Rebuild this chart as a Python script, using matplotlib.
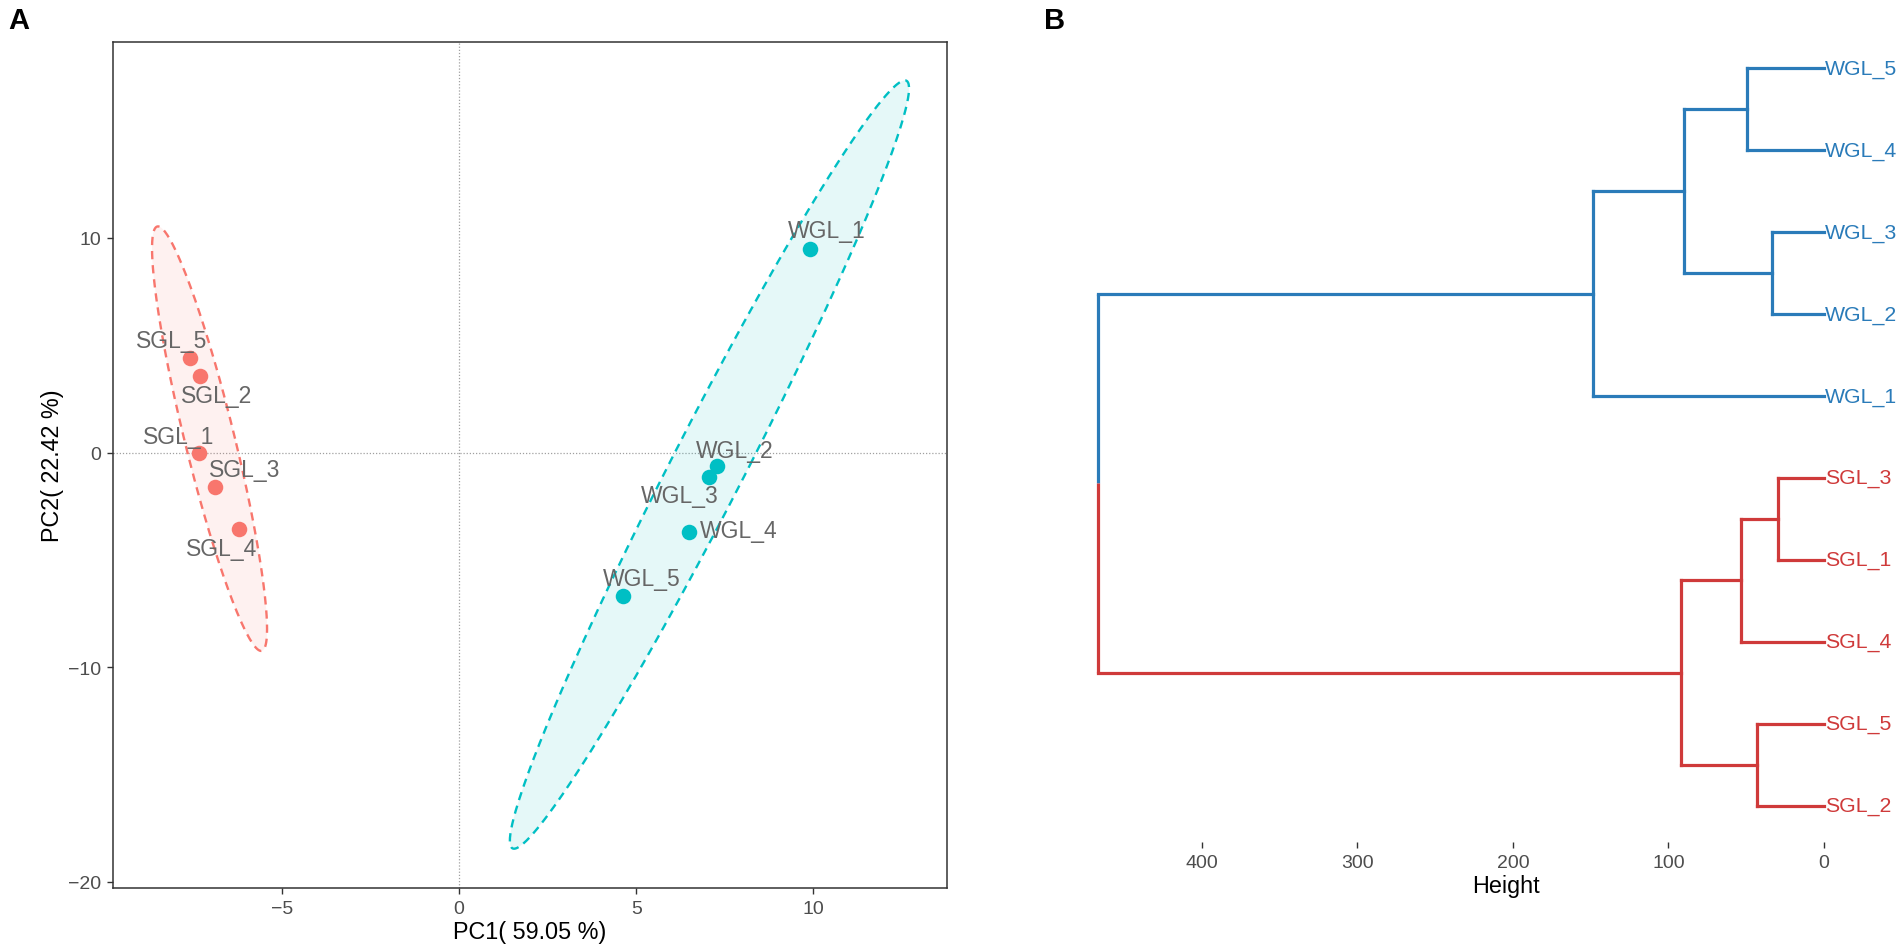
import numpy as np
import matplotlib.pyplot as plt

plt.rcParams['font.family'] = ['Liberation Sans', 'DejaVu Sans']

# PCA scores
sgl_names = ['SGL_1', 'SGL_2', 'SGL_3', 'SGL_4', 'SGL_5']
sgl_pc1 = [-7.35, -7.32, -6.90, -6.20, -7.61]
sgl_pc2 = [0.0, 3.55, -1.60, -3.57, 4.42]
wgl_names = ['WGL_1', 'WGL_2', 'WGL_3', 'WGL_4', 'WGL_5']
wgl_pc1 = [9.91, 7.28, 7.06, 6.50, 4.62]
wgl_pc2 = [9.49, -0.64, -1.13, -3.69, -6.67]

# repelled label positions (centre of text)
sgl_lab_x = [-7.91, -6.84, -6.06, -6.71, -8.12]
sgl_lab_y = [0.73, 2.67, -0.78, -4.47, 5.22]
wgl_lab_x = [10.38, 7.79, 6.22, 7.89, 5.15]
wgl_lab_y = [10.34, 0.11, -2.01, -3.61, -5.86]

# confidence ellipses: centre, top point (conjugate semi-axis), horizontal half width
sgl_ell_center = (-7.045, 0.645)
sgl_ell_top = (-8.50, 10.53)
sgl_ell_halfw = 0.72
wgl_ell_center = (7.065, -0.56)
wgl_ell_top = (12.58, 17.33)
wgl_ell_halfw = 1.15

# dendrogram (leaves bottom -> top) and merges (child, child, height)
dend_leaves = ['SGL_2', 'SGL_5', 'SGL_4', 'SGL_1', 'SGL_3',
               'WGL_1', 'WGL_2', 'WGL_3', 'WGL_4', 'WGL_5']
dend_merges = [('SGL_3', 'SGL_1', 29.7),
               ('SGL_5', 'SGL_2', 43.0),
               ('m1', 'SGL_4', 53.4),
               ('m3', 'm2', 91.9),
               ('WGL_3', 'WGL_2', 33.5),
               ('WGL_5', 'WGL_4', 49.2),
               ('m6', 'm5', 90.1),
               ('m7', 'WGL_1', 148.8),
               ('m8', 'm4', 466.6)]

SGL_COL = '#F8766D'
WGL_COL = '#00BFC4'
DEND_RED = '#CF3A3A'
DEND_BLUE = '#2A7BB9'
TICK_COL = '#4D4D4D'

fig = plt.figure(figsize=(19.02, 9.53), dpi=100)
W, H = 1902, 953


def px_axes(l, t, r, b):
    return fig.add_axes([l / W, 1 - b / H, (r - l) / W, (b - t) / H])


# ---------------- panel A ----------------
ax = px_axes(113, 42.5, 947, 889)


def draw_ellipse(center, top, halfw, col):
    t = np.linspace(0, 2 * np.pi, 300)
    cx, cy = center
    ux, uy = top[0] - cx, top[1] - cy
    xs = cx + ux * np.sin(t) + halfw * np.cos(t)
    ys = cy + uy * np.sin(t)
    ax.fill(xs, ys, color=col, alpha=0.1, lw=0, zorder=1)
    ax.plot(xs, ys, color=col, lw=1.7, ls=(0, (3.5, 2.5)), zorder=2)


ax.axhline(0, color='#A0A0A0', lw=0.9, ls=(0, (1, 1.5)), zorder=0)
ax.axvline(0, color='#A0A0A0', lw=0.9, ls=(0, (1, 1.5)), zorder=0)
draw_ellipse(sgl_ell_center, sgl_ell_top, sgl_ell_halfw, SGL_COL)
draw_ellipse(wgl_ell_center, wgl_ell_top, wgl_ell_halfw, WGL_COL)

ax.scatter(sgl_pc1, sgl_pc2, s=125, color=SGL_COL, lw=0, zorder=3)
ax.scatter(wgl_pc1, wgl_pc2, s=125, color=WGL_COL, lw=0, zorder=3)
for n, x, y in zip(sgl_names, sgl_lab_x, sgl_lab_y):
    ax.text(x, y, n, color='#666666', fontsize=16.5, ha='center', va='center', zorder=4)
for n, x, y in zip(wgl_names, wgl_lab_x, wgl_lab_y):
    ax.text(x, y, n, color='#666666', fontsize=16.5, ha='center', va='center', zorder=4)

ax.set_xlim(-9.77, 13.77)
ax.set_ylim(-20.28, 19.14)
ax.set_xticks([-5, 0, 5, 10])
ax.set_yticks([-20, -10, 0, 10])
ax.set_xticklabels(['\u22125', '0', '5', '10'])
ax.set_yticklabels(['\u221220', '\u221210', '0', '10'])
for s in ax.spines.values():
    s.set_color('#333333')
    s.set_linewidth(1.1)
ax.tick_params(length=4.3, width=1, color='#333333', labelcolor=TICK_COL,
               labelsize=14, pad=4)
ax.set_xlabel('PC1( 59.05 %)', fontsize=16.8)
ax.xaxis.set_label_coords(0.5, -0.0508)
ax.xaxis.label.set_va('center')
ax.set_ylabel('PC2( 22.42 %)', fontsize=16.8)
ax.yaxis.set_label_coords(-0.0731, 0.5)
ax.yaxis.label.set_va('center')

# ---------------- panel B ----------------
bx = px_axes(1090, 33, 1902, 843)

ypos = {name: i + 1 for i, name in enumerate(dend_leaves)}
hpos = {name: 0.0 for name in dend_leaves}
group = {name: name[:3] for name in dend_leaves}
for i, (a, b, h) in enumerate(dend_merges):
    node = 'm%d' % (i + 1)
    ypos[node] = (ypos[a] + ypos[b]) / 2
    hpos[node] = h
    group[node] = group[a] if group[a] == group[b] else 'root'

col_of = {'SGL': DEND_RED, 'WGL': DEND_BLUE}
for i, (a, b, h) in enumerate(dend_merges):
    node = 'm%d' % (i + 1)
    for c in (a, b):
        bx.plot([hpos[c], h], [ypos[c], ypos[c]], color=col_of[group[c]],
                lw=2.3, solid_capstyle='projecting')
    if group[node] == 'root':
        mid = ypos[node]
        for c in (a, b):
            bx.plot([h, h], [ypos[c], mid], color=col_of[group[c]], lw=2.3,
                    solid_capstyle='butt')
    else:
        bx.plot([h, h], [ypos[a], ypos[b]], color=col_of[group[node]], lw=2.3,
                solid_capstyle='projecting')

for name in dend_leaves:
    bx.text(-0.5, ypos[name], name, color=col_of[group[name]], fontsize=15.3,
            ha='left', va='center')

bx.set_xlim(472.0, -50.2)
bx.set_ylim(0.56, 10.44)
bx.set_xticks([400, 300, 200, 100, 0])
bx.set_yticks([])
for s in bx.spines.values():
    s.set_visible(False)
bx.tick_params(axis='x', length=4.3, width=1, color='#333333', labelcolor=TICK_COL,
               labelsize=14, pad=4)
bx.set_xlabel('Height', fontsize=16.8)
bx.xaxis.set_label_coords(0.512, -0.0543)
bx.xaxis.label.set_va('center')

fig.text(19 / W, 1 - 21 / H, 'A', fontsize=21, fontweight='bold', ha='center', va='center')
fig.text(1055 / W, 1 - 21 / H, 'B', fontsize=21, fontweight='bold', ha='center', va='center')

fig.savefig('out.png', dpi=100)
